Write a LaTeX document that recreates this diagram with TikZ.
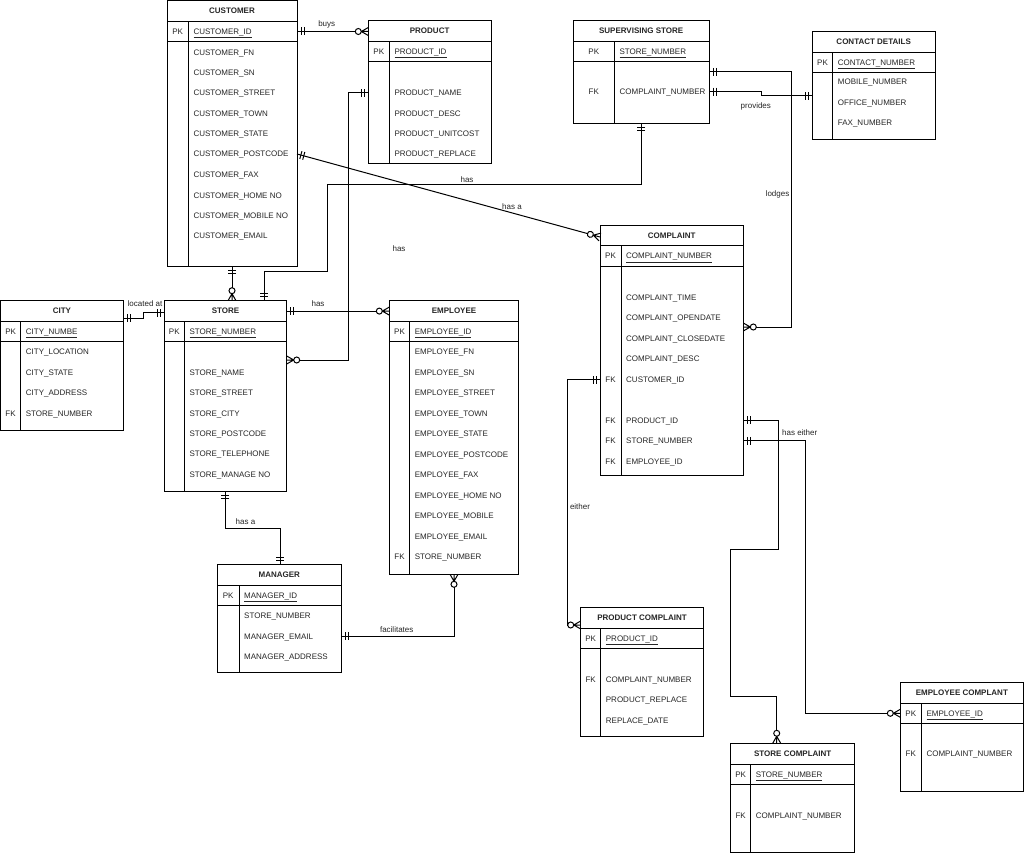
\documentclass[tikz,border=0pt]{standalone}
\usepackage{fontspec}
\setmainfont{Liberation Sans}
\usetikzlibrary{arrows.meta}

\pgfdeclarearrow{
  name=ERmandOne,
  setup code={
    \pgfarrowssettipend{0pt}
    \pgfarrowssetlineend{0pt}
    \pgfarrowssetbackend{-8pt}
    \pgfarrowsupperhullpoint{0pt}{4.5pt}
    \pgfarrowsupperhullpoint{-8pt}{4.5pt}
  },
  drawing code={
    \pgfsetdash{}{0pt}
    \pgfpathmoveto{\pgfqpoint{-4pt}{-4pt}}
    \pgfpathlineto{\pgfqpoint{-4pt}{4pt}}
    \pgfpathmoveto{\pgfqpoint{-7pt}{-4pt}}
    \pgfpathlineto{\pgfqpoint{-7pt}{4pt}}
    \pgfusepathqstroke
  }
}
\pgfdeclarearrow{
  name=ERzeroMany,
  setup code={
    \pgfarrowssettipend{0pt}
    \pgfarrowssetlineend{-13pt}
    \pgfarrowssetbackend{-13pt}
    \pgfarrowsupperhullpoint{0pt}{4.5pt}
    \pgfarrowsupperhullpoint{-13pt}{4.5pt}
  },
  drawing code={
    \pgfsetdash{}{0pt}
    \pgfpathmoveto{\pgfqpoint{-7pt}{0pt}}
    \pgfpathlineto{\pgfqpoint{0pt}{0pt}}
    \pgfpathmoveto{\pgfqpoint{-7pt}{0pt}}
    \pgfpathlineto{\pgfqpoint{0pt}{4pt}}
    \pgfpathmoveto{\pgfqpoint{-7pt}{0pt}}
    \pgfpathlineto{\pgfqpoint{0pt}{-4pt}}
    \pgfusepathqstroke
    \pgfpathcircle{\pgfqpoint{-10pt}{0pt}}{3pt}
    \pgfusepathqstroke
  }
}

\tikzset{
  tblbox/.style={draw=black, line width=1pt, inner sep=0pt, outer sep=0pt, anchor=north west},
  tblrule/.style={draw=black, line width=1pt},
  txt/.style={font=\fontsize{8}{9}\selectfont, inner sep=0pt, text height=5.7pt, text depth=0pt, text=black!85},
  fld/.style={txt, anchor=west},
  keycol/.style={txt, anchor=center},
  ttl/.style={txt, font=\fontsize{8}{9}\selectfont\bfseries, anchor=center},
  lbl/.style={txt, anchor=center},
  rel/.style={draw=black, line width=1pt},
  onemany/.style={rel, arrows={ERmandOne[]-ERzeroMany[]}},
  oneone/.style={rel, arrows={ERmandOne[]-ERmandOne[]}},
}

% name, x1, y1, x2, y2, sep, title, key
\newcommand{\ertable}[8]{%
  \node[tblbox, minimum width={#4-#2}, minimum height={#5-#3}] (#1) at (#2,#3) {};
  \draw[tblrule] (#2,#3+20.7) -- (#4,#3+20.7);
  \draw[tblrule] (#2,#3+41.2) -- (#4,#3+41.2);
  \draw[tblrule] (#6,#3+20.7) -- (#6,#5);
  \node[ttl] (#1-t) at ({(#2+#4)/2},#3+10.4) {#7};
  \node[keycol] (#1-pkl) at ({(#2+#6)/2},#3+31) {PK};
  \node[fld] (#1-pk) at (#6+5,#3+31) {\underline{#8}};
}
% name, x (center), y
\newcommand{\fklabel}[3]{\node[keycol] (#1) at (#2,#3) {FK};}

\begin{document}
\begin{tikzpicture}[x=1pt,y=-1pt]
\useasboundingbox (0,0) rectangle (1024,853);
\fill[white] (0,0) rectangle (1024,853);

% CUSTOMER
\ertable{cust}{167}{0.5}{297}{266}{188.3}{CUSTOMER}{CUSTOMER\_ID}
\foreach \yy/\txt [count=\i] in {52.3/CUSTOMER\_FN,72.7/CUSTOMER\_SN,93/CUSTOMER\_STREET,113.3/CUSTOMER\_TOWN,133.7/CUSTOMER\_STATE,154/CUSTOMER\_POSTCODE,174.7/CUSTOMER\_FAX,195.3/CUSTOMER\_HOME NO,215.7/CUSTOMER\_MOBILE NO,236/CUSTOMER\_EMAIL}
  {\node[fld] (cust-\i) at (193.3,\yy) {\txt};}

% PRODUCT
\ertable{prod}{368.3}{20.7}{491}{164}{389.3}{PRODUCT}{PRODUCT\_ID}
\foreach \yy/\txt [count=\i] in {93/PRODUCT\_NAME,113.3/PRODUCT\_DESC,133.7/PRODUCT\_UNITCOST,154/PRODUCT\_REPLACE}
  {\node[fld] (prod-\i) at (394.3,\yy) {\txt};}

% SUPERVISING STORE
\ertable{sup}{573.3}{20.5}{709}{123.3}{614.3}{SUPERVISING STORE}{STORE\_NUMBER}
\fklabel{sup-fk}{593.8}{91.7}
\node[fld] (sup-1) at (619.5,91.7) {COMPLAINT\_NUMBER};

% CONTACT DETAILS
\ertable{cont}{812.3}{31.5}{935}{139.5}{832.7}{CONTACT DETAILS}{CONTACT\_NUMBER}
\foreach \yy/\txt [count=\i] in {82/MOBILE\_NUMBER,102.5/OFFICE\_NUMBER,123/FAX\_NUMBER}
  {\node[fld] (cont-\i) at (837.7,\yy) {\txt};}

% CITY
\ertable{city}{0.5}{300.7}{123.3}{430}{20.7}{CITY}{CITY\_NUMBE}
\foreach \yy/\txt [count=\i] in {352/CITY\_LOCATION,372.5/CITY\_STATE,393/CITY\_ADDRESS,413.3/STORE\_NUMBER}
  {\node[fld] (city-\i) at (25.7,\yy) {\txt};}
\fklabel{city-fk}{10.6}{413.3}

% STORE
\ertable{store}{164.3}{300.7}{286.7}{491.7}{184.3}{STORE}{STORE\_NUMBER}
\foreach \yy/\txt [count=\i] in {372.3/STORE\_NAME,392.7/STORE\_STREET,413.2/STORE\_CITY,433.6/STORE\_POSTCODE,454/STORE\_TELEPHONE,474.5/STORE\_MANAGE NO}
  {\node[fld] (store-\i) at (189.3,\yy) {\txt};}

% EMPLOYEE
\ertable{emp}{389.3}{300.7}{518.7}{574.3}{409.7}{EMPLOYEE}{EMPLOYEE\_ID}
\foreach \txt [count=\i] in {EMPLOYEE\_FN,EMPLOYEE\_SN,EMPLOYEE\_STREET,EMPLOYEE\_TOWN,EMPLOYEE\_STATE,EMPLOYEE\_POSTCODE,EMPLOYEE\_FAX,EMPLOYEE\_HOME NO,EMPLOYEE\_MOBILE,EMPLOYEE\_EMAIL,STORE\_NUMBER}
  {\node[fld] (emp-\i) at (414.7,{352+(\i-1)*20.47}) {\txt};}
\fklabel{emp-fk}{399.5}{556.7}

% MANAGER
\ertable{mgr}{217.3}{564.7}{341.3}{672.7}{239}{MANAGER}{MANAGER\_ID}
\foreach \yy/\txt [count=\i] in {616/STORE\_NUMBER,636.5/MANAGER\_EMAIL,657/MANAGER\_ADDRESS}
  {\node[fld] (mgr-\i) at (244,\yy) {\txt};}

% COMPLAINT
\ertable{comp}{600}{225}{743.3}{475.7}{621}{COMPLAINT}{COMPLAINT\_NUMBER}
\foreach \yy/\txt [count=\i] in {297.7/COMPLAINT\_TIME,318.1/COMPLAINT\_OPENDATE,338.6/COMPLAINT\_CLOSEDATE,359/COMPLAINT\_DESC,379.5/CUSTOMER\_ID,420.3/PRODUCT\_ID,440.8/STORE\_NUMBER,461.2/EMPLOYEE\_ID}
  {\node[fld] (comp-\i) at (626,\yy) {\txt};}
\foreach \yy [count=\i] in {379.5,420.3,440.8,461.2}
  {\fklabel{comp-fk\i}{610.5}{\yy}}

% PRODUCT COMPLAINT
\ertable{pcomp}{580.7}{607.3}{703.3}{736.7}{600.7}{PRODUCT COMPLAINT}{PRODUCT\_ID}
\foreach \yy/\txt [count=\i] in {679.5/COMPLAINT\_NUMBER,700/PRODUCT\_REPLACE,720.4/REPLACE\_DATE}
  {\node[fld] (pcomp-\i) at (605.7,\yy) {\txt};}
\fklabel{pcomp-fk}{590.7}{679.5}

% STORE COMPLAINT
\ertable{scomp}{730.7}{743.3}{854.7}{852.5}{750.7}{STORE COMPLAINT}{STORE\_NUMBER}
\node[fld] (scomp-1) at (755.7,815.7) {COMPLAINT\_NUMBER};
\fklabel{scomp-fk}{740.7}{815.7}

% EMPLOYEE COMPLANT
\ertable{ecomp}{900.3}{682.3}{1023.5}{791.7}{921.3}{EMPLOYEE COMPLANT}{EMPLOYEE\_ID}
\node[fld] (ecomp-1) at (926.3,753.3) {COMPLAINT\_NUMBER};
\fklabel{ecomp-fk}{910.8}{753.3}

% ---------- connectors ----------
% buys
\draw[onemany] (cust.east |- cust-pk) -- (prod.west |- cust-pk);
\node[lbl] (l-buys) at (326.7,23.3) {buys};

% customer - store
\draw[onemany] (cust.south -| 232,0) -- (store.north -| 232,0);

% store - supervising store (has)
\draw[oneone] (store.north -| 264,0) |- (327,271) |- (641,184) -- (sup.south -| 641,0);
\node[lbl] (l-has1) at (467,180) {has};

% product - store
\draw[onemany] (prod.west |- prod-1) -| (348,360) -- (store.east |- 0,360);
\node[lbl] (l-has2) at (399,248.5) {has};

% store - employee
\draw[onemany] (store.east |- store-t) -- (emp.west |- store-t);
\node[lbl] (l-has3) at (318,304) {has};

% city - store
\draw[oneone] (city.east |- 0,318) -| (143.3,312.7) -- (store.west |- 0,312.7);
\node[lbl] (l-loc) at (145,303.5) {located at};

% store - manager
\draw[oneone] (store.south -| 225,0) |- (280,528) -- (mgr.north -| 280,0);
\node[lbl] (l-hasa1) at (245.5,521.7) {has a};

% manager - employee
\draw[onemany] (mgr.east |- 0,636) -| (emp.south -| 454,0);
\node[lbl] (l-fac) at (396.7,630) {facilitates};

% customer - complaint
\draw[onemany] (cust.east |- cust-6) -- (comp.west |- 0,237);
\node[lbl] (l-hasa2) at (512,207) {has a};

% supervising store - contact details
\draw[oneone] (sup.east |- sup-1) -| (761,96) -- (cont.west |- 0,96);
\node[lbl] (l-prov) at (755.8,105.5) {provides};

% supervising store - complaint (lodges)
\draw[onemany] (sup.east |- 0,72) -| (791,327) -- (comp.east |- 0,327);
\node[lbl] (l-lodg) at (777.5,193.8) {lodges};

% complaint - product complaint
\draw[onemany] (comp.west |- comp-5) -| (567,625) -- (pcomp.west |- 0,625);
\node[lbl] (l-eith) at (580,506.7) {either};

% complaint - store complaint
\draw[onemany] (comp.east |- comp-6) -| (778,549) -| (730.7,696) -| (scomp.north -| 776.7,0);

% complaint - employee complant
\draw[onemany] (comp.east |- comp-7) -| (805,713.3) -- (ecomp.west |- ecomp-pk);
\node[lbl] (l-heith) at (799.7,432.8) {has either};
\end{tikzpicture}
\end{document}
